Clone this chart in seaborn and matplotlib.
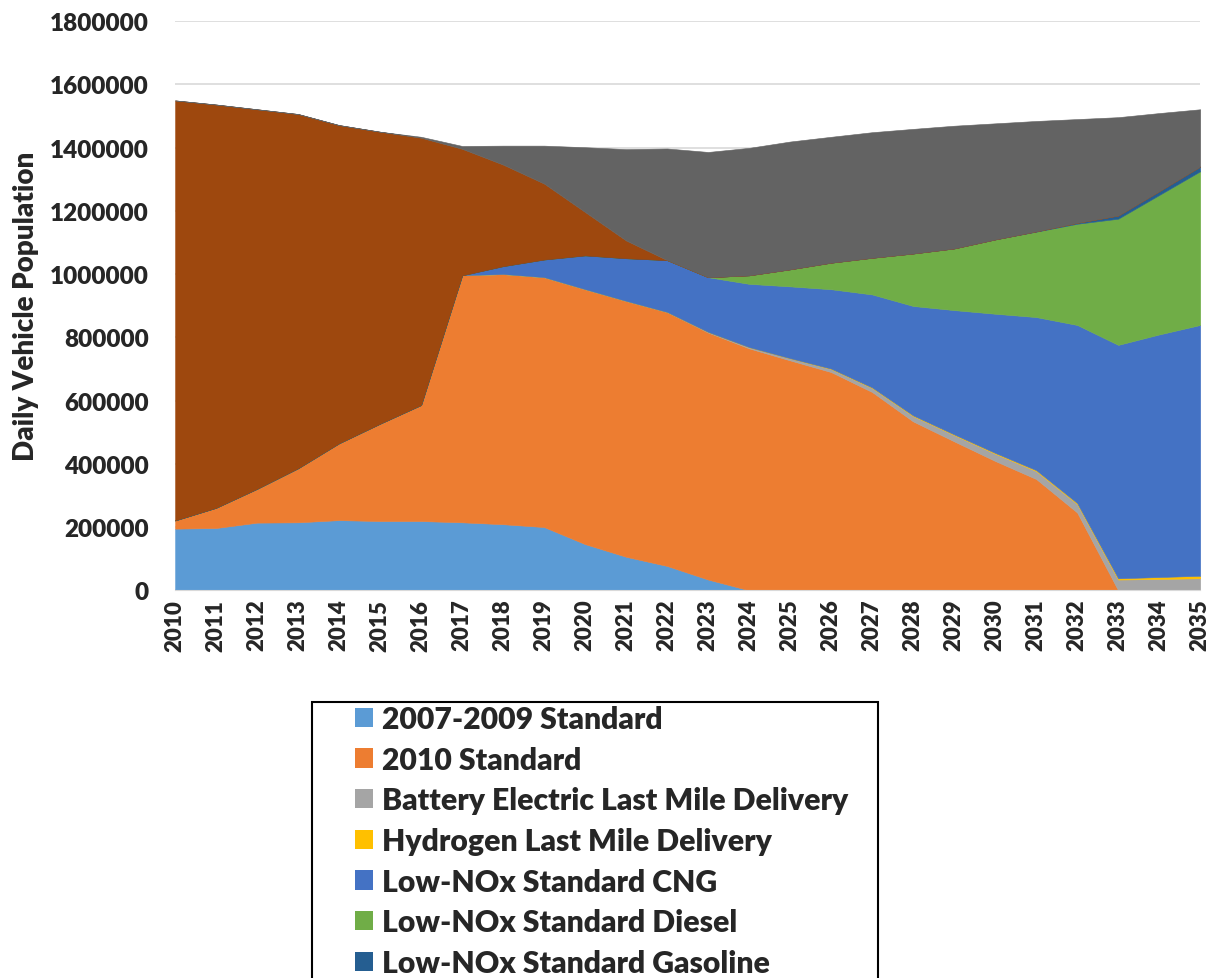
import matplotlib
matplotlib.use("Agg")
import matplotlib.pyplot as plt
from matplotlib.patches import Patch, Rectangle
import seaborn as sns

years = list(range(2010, 2036))

std_2007_2009 = [195000, 197000, 214000, 215000, 222000, 219000, 219000, 215000, 209000,
                 200000, 146000, 106000, 77000, 34000, 0, 0, 0, 0, 0, 0, 0, 0, 0, 0, 0, 0]
std_2010 = [26000, 64000, 107000, 171000, 243000, 308000, 367000, 781000, 791000, 790000,
            806000, 809000, 803000, 781000, 765000, 727000, 690000, 627000, 534000, 471000,
            409000, 352000, 246000, 0, 0, 0]
battery_lmd = [0, 0, 0, 0, 0, 0, 0, 0, 0, 0, 0, 0, 0, 2000, 4000, 7000, 10000, 13000,
               17000, 20000, 23000, 25000, 27000, 34000, 36000, 38000]
hydrogen_lmd = [0, 0, 0, 0, 0, 0, 0, 0, 0, 0, 0, 0, 0, 0, 0, 0, 1000, 1500, 2000, 2000,
                2500, 3000, 3000, 4000, 6000, 8000]
lownox_cng = [0, 0, 0, 0, 0, 0, 0, 0, 25000, 56000, 107000, 135000, 164000, 173000,
              200000, 227000, 251000, 294000, 346000, 393000, 440000, 484000, 563000,
              738000, 767000, 793000]
lownox_diesel = [0, 0, 0, 0, 0, 0, 0, 0, 0, 0, 0, 0, 0, 0, 27000, 54000, 84000, 116000,
                 166000, 195000, 235000, 270000, 320000, 399000, 441000, 486000]
lownox_gasoline = [0, 0, 0, 0, 0, 0, 0, 0, 0, 0, 0, 0, 0, 0, 0, 0, 0, 0, 0, 0, 0, 1000,
                   3000, 10000, 12000, 15000]
pre_2007 = [1328000, 1275000, 1200000, 1120000, 1006000, 923000, 845000, 400000, 321000,
            240000, 137000, 56000, 0, 0, 0, 0, 0, 0, 0, 0, 0, 0, 0, 0, 0, 0]
other = [0, 0, 0, 0, 0, 0, 3000, 9000, 60000, 120000, 205000, 289000, 353000, 396000,
         403000, 404000, 398000, 397000, 394000, 388000, 367000, 349000, 328000, 311000,
         247000, 181000]

labels = ["2007-2009 Standard", "2010 Standard", "Battery Electric Last Mile Delivery",
          "Hydrogen Last Mile Delivery", "Low-NOx Standard CNG", "Low-NOx Standard Diesel",
          "Low-NOx Standard Gasoline", "Pre-2007 Standard", "Other"]
colors = ["#5B9BD5", "#ED7D31", "#A5A5A5", "#FFC000", "#4472C4", "#70AD47",
          "#255E91", "#9E480E", "#636363"]

sns.set_style("white")
plt.rcParams['font.family'] = ['Lato', 'DejaVu Sans']
W = 'heavy'

fig = plt.figure(figsize=(12.16, 9.79), dpi=100)
ax = fig.add_axes([0.144, 0.396, 0.843, 0.5815])

series = [std_2007_2009, std_2010, battery_lmd, hydrogen_lmd, lownox_cng,
          lownox_diesel, lownox_gasoline, pre_2007, other]
ax.stackplot(years, *series, colors=colors, labels=labels, linewidth=0.4,
             edgecolor='face', zorder=2)

ax.set_xlim(2010, 2035)
ax.set_ylim(0, 1800000)
ax.set_xticks(years)
ax.set_xticklabels([str(y) for y in years], rotation=90, fontsize=16, fontweight=W)
ax.set_yticks(range(0, 1800001, 200000))
ax.set_yticklabels([str(v) for v in range(0, 1800001, 200000)], fontsize=17.5,
                   fontweight=W)
ax.yaxis.grid(True, color='#d9d9d9', linewidth=1.2, zorder=0)
ax.tick_params(axis='x', length=0, pad=6)
ax.tick_params(axis='y', length=0, pad=19)
ax.set_ylabel('Daily Vehicle Population', fontsize=20, fontweight=W, labelpad=8)
sns.despine(ax=ax, left=True, right=True, top=True)
ax.spines['bottom'].set_color('#d9d9d9')

# legend frame runs past the bottom edge, as in the original; only the
# entries that fit inside the picture are listed
fig.patches.append(Rectangle((312 / 1216, -0.05), (878 - 312) / 1216, 0.05 + 1 - 703 / 979,
                             transform=fig.transFigure, facecolor='white',
                             edgecolor='black', linewidth=1.5))
n_shown = 7
handles = [Patch(facecolor=c, edgecolor='none') for c in colors[:n_shown]]
leg = fig.legend(handles, labels[:n_shown], loc='upper left',
                 bbox_to_anchor=(352 / 1216, 1 - 703 / 979), frameon=False,
                 prop={'weight': W, 'size': 21.7}, handlelength=0.6,
                 handleheight=0.6, handletextpad=0.3, labelspacing=0.42,
                 borderpad=0.1, borderaxespad=0)

fig.savefig('out.png', dpi=100)
